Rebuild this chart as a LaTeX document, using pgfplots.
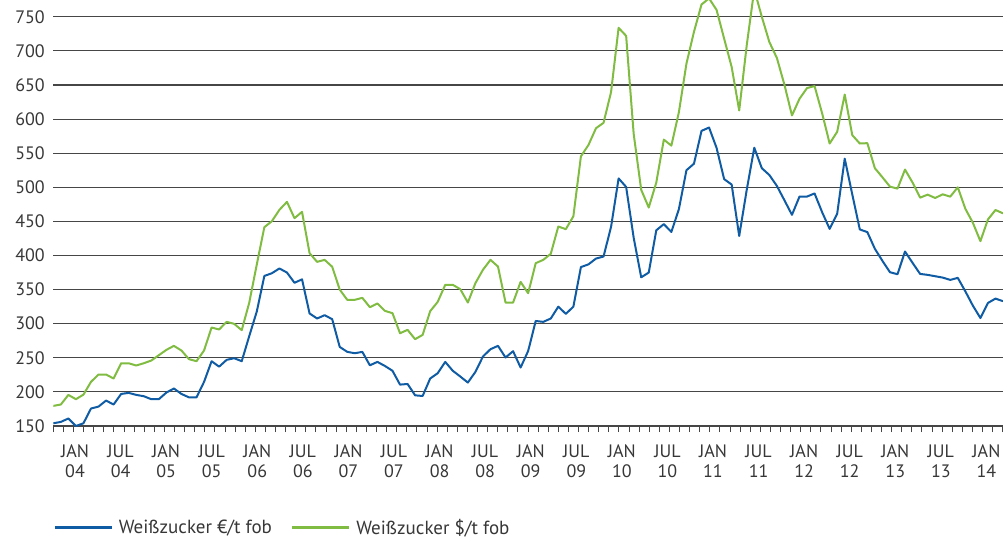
\documentclass[border=0pt]{standalone}
\usepackage{fontspec}
\setmainfont{PT Sans}
\usepackage{pgfplots}
\pgfplotsset{compat=1.18}
\definecolor{eurblue}{RGB}{16,92,164}
\definecolor{usdgreen}{RGB}{128,188,66}
\definecolor{txt}{RGB}{55,55,55}
\definecolor{gridc}{RGB}{70,70,70}
\begin{document}
\begin{tikzpicture}
\useasboundingbox (0,0) rectangle (1003pt,542pt);
\begin{axis}[
  at={(53.3pt,116pt)}, anchor=south west,
  width=949.7pt, height=426pt, scale only axis,
  xmin=0, xmax=126, ymin=150, ymax=774.6,
  ytick={150,200,...,750},
  ymajorgrids, grid style={gridc, line width=1.1pt},
  axis x line*=bottom, axis y line*=left,
  y axis line style={draw=none},
  x axis line style={gridc, line width=1.1pt},
  xtick={2.88,8.93,14.97,21.02,27.06,33.11,39.16,45.20,51.25,57.29,63.34,69.39,75.43,81.48,87.52,93.57,99.62,105.66,111.71,117.75,123.80},
  xticklabels={{JAN\\04},{JUL\\04},{JAN\\05},{JUL\\05},{JAN\\06},{JUL\\06},{JAN\\07},{JUL\\07},{JAN\\08},{JUL\\08},{JAN\\09},{JUL\\09},{JAN\\10},{JUL\\10},{JAN\\11},{JUL\\11},{JAN\\12},{JUL\\12},{JAN\\13},{JUL\\13},{JAN\\14}},
  extra x ticks={0,1.34,...,126},
  extra x tick labels={},
  extra x tick style={major tick length=6pt, tick align=outside, major tick style={draw=gridc, line width=1pt}, xticklabel style={opacity=0}},
  tick align=outside,
  major tick length=0pt,
  major tick style={draw=none},
  xticklabel style={align=center, font=\fontsize{18}{20}\selectfont, text=txt, yshift=-15pt},
  yticklabel style={font=\fontsize{18}{22}\selectfont, text=txt, xshift=-5pt},
  /pgf/number format/assume math mode=true,
  clip=true,
  legend columns=2,
  legend style={at={(axis description cs:0,-0.238)}, anchor=west, draw=none, fill=none,
    inner sep=0pt, font=\fontsize{19}{22}\selectfont, text=txt,
    nodes={inner sep=2pt},
    /tikz/every odd column/.append style={column sep=0pt},
    /tikz/every even column/.append style={column sep=17pt}},
  legend image code/.code={\draw[#1, line width=2.6pt] (0pt,0pt) -- (57pt,0pt); \path (61pt,0pt);},
  every axis plot/.append style={line width=2pt, line join=round},
]
\addplot[eurblue] coordinates {
(0,154)(1,156)(2,161)(3,150)(4,154)(5,175.6)(6,178.5)(7,187.3)(8,181.5)(9,197)
(10,198.6)(11,195.6)(12,193.7)(13,189.3)(14,189.3)(15,199)(16,205)(17,197)(18,192)(19,192)
(20,214.7)(21,245)(22,237)(23,247)(24,249.4)(25,245)(26,282)(27,318)(28,370)(29,374)
(30,381)(31,375)(32,360)(33,365)(34,315)(35,307.6)(36,312.5)(37,306.6)(38,266)(39,258.7)
(40,256.7)(41,258.7)(42,239)(43,244)(44,238)(45,231)(46,210.7)(47,211.6)(48,195)(49,194)
(50,219.6)(51,227.4)(52,244)(53,231)(54,222.5)(55,213.7)(56,229.3)(57,251.8)(58,262.6)(59,267.5)
(60,250.4)(61,259.7)(62,235.7)(63,260)(64,304)(65,302.7)(66,307.6)(67,325)(68,314.4)(69,325)
(70,383)(71,387)(72,395.5)(73,398.5)(74,442)(75,513)(76,500.5)(77,426)(78,368)(79,375)
(80,437)(81,446)(82,434.5)(83,468)(84,525)(85,534.6)(86,582.7)(87,587.6)(88,557.7)(89,512)
(90,504)(91,428.6)(92,496.3)(93,558)(94,528)(95,518)(96,502)(97,481)(98,459.6)(99,486.4)
(100,486.4)(101,491)(102,463.5)(103,439)(104,461.3)(105,542)(106,489.7)(107,438.2)(108,434.3)(109,409.8)
(110,392.2)(111,375.5)(112,372.5)(113,405.9)(114,389.2)(115,373)(116,371.6)(117,369.6)(118,367.6)(119,364.2)
(120,367.2)(121,347.5)(122,326.5)(123,308.3)(124,330.4)(125,336.8)(126,333)
};
\addlegendentry{Weißzucker €/t fob}
\addplot[usdgreen] coordinates {
(0,179.5)(1,181.5)(2,195.6)(3,189.3)(4,196)(5,214.7)(6,225.5)(7,225.5)(8,219.6)(9,242)
(10,242)(11,238.7)(12,242)(13,246)(14,253.8)(15,261.6)(16,267.5)(17,260.7)(18,248)(19,245)
(20,260.7)(21,294.4)(22,291.5)(23,302.7)(24,299.8)(25,290.5)(26,331)(27,387)(28,441.5)(29,450.3)
(30,467)(31,478.6)(32,454.7)(33,464)(34,403.4)(35,390.7)(36,393.6)(37,383.5)(38,350)(39,335)
(40,335)(41,337.9)(42,324.2)(43,329.6)(44,318.8)(45,315.4)(46,286)(47,291)(48,277.3)(49,283.6)
(50,318.3)(51,332)(52,357)(53,357)(54,350.6)(55,331)(56,359.4)(57,379)(58,393.6)(59,383.8)
(60,331)(61,331)(62,361.3)(63,344.7)(64,388.7)(65,393.6)(66,402.4)(67,442.5)(68,438.6)(69,457.5)
(70,545.4)(71,562)(72,586.6)(73,594.5)(74,639.6)(75,733.8)(76,722)(77,578.3)(78,496.3)(79,470.3)
(80,507)(81,569.9)(82,561.1)(83,610.2)(84,681.3)(85,728)(86,768)(87,777)(88,760)(89,718)
(90,676.4)(91,612.6)(92,708.3)(93,790)(94,750)(95,713)(96,689.6)(97,650.4)(98,605.3)(99,629.8)
(100,645.5)(101,648.4)(102,608.5)(103,564.2)(104,581.4)(105,636)(106,576.5)(107,564.2)(108,564.7)(109,528)
(110,514.7)(111,501)(112,498)(113,526)(114,506.9)(115,484.8)(116,489.2)(117,484.3)(118,489.7)(119,486.3)
(120,500)(121,468.6)(122,448)(123,421)(124,452.9)(125,466.7)(126,461.8)
};
\addlegendentry{Weißzucker \$/t fob}
\end{axis}
\end{tikzpicture}
\end{document}
